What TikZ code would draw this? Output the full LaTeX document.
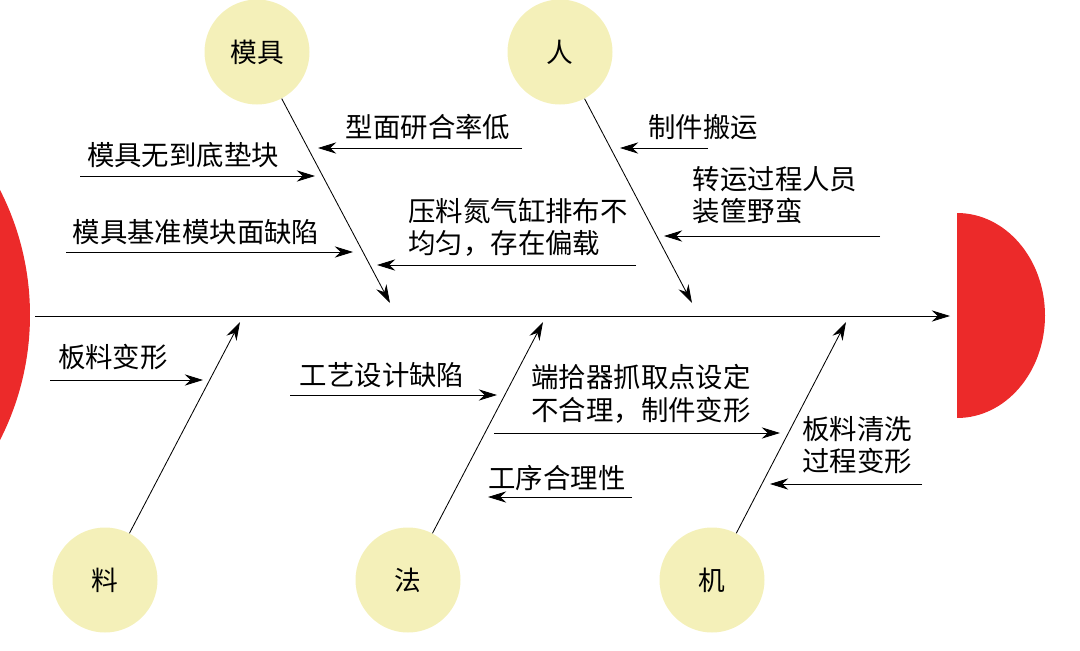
\documentclass[tikz,border=0pt]{standalone}
\usepackage{fontspec}
\setmainfont{Noto Sans CJK SC}
\usetikzlibrary{arrows.meta}
\definecolor{cy}{HTML}{F4F0B9}
\definecolor{rd}{HTML}{EC2A2A}
\begin{document}
\begin{tikzpicture}[x=0.025cm,y=-0.025cm,
 ar/.style={-{Stealth[length=13pt,width=8pt]},line width=0.6pt},
 cat/.style={circle,fill=cy,minimum size=105*0.025cm,font=\fontsize{19pt}{20pt}\selectfont},
 lb/.style={font=\fontsize{19.5pt}{23pt}\selectfont,align=left,inner sep=0pt}]
\useasboundingbox (0,0) rectangle (1080,651);
\begin{scope}
\clip (0,0) rectangle (1080,651);
\fill[rd] (-245,315) circle (275);
\end{scope}
\fill[rd] (957,213) arc[start angle=90,end angle=-90,x radius=88,y radius=-102.5] -- cycle;
\coordinate (s0) at (35,316); \coordinate (s1) at (950,316);
\draw[ar] (s0) -- (s1);
\node[cat] (mj) at (257,52) {模具};
\node[cat] (ren) at (560,52) {人};
\node[cat] (liao) at (105,580) {料};
\node[cat] (fa) at (408,580) {法};
\node[cat] (ji) at (712,580) {机};
\coordinate (e1) at (390,303); \coordinate (e2) at (692,303);
\coordinate (e3) at (240,322); \coordinate (e4) at (543,322); \coordinate (e5) at (846,322);
\draw[ar] (mj) -- (e1);
\draw[ar] (ren) -- (e2);
\draw[ar] (liao) -- (e3);
\draw[ar] (fa) -- (e4);
\draw[ar] (ji) -- (e5);
\coordinate (a1) at (522,148); \coordinate (b1) at (318,148); \draw[ar] (a1) -- (b1);
\node[lb] (t1) at (428,127) {型面研合率低};
\coordinate (a2) at (80,176); \coordinate (b2) at (315,176); \draw[ar] (a2) -- (b2);
\node[lb] (t2) at (183,155) {模具无到底垫块};
\coordinate (a3) at (66,252); \coordinate (b3) at (353,252); \draw[ar] (a3) -- (b3);
\node[lb] (t3) at (196,232) {模具基准模块面缺陷};
\coordinate (a4) at (636,265); \coordinate (b4) at (377,265); \draw[ar] (a4) -- (b4);
\node[lb] (t4) at (518,227) {压料氮气缸排布不\\均匀，存在偏载};
\coordinate (a5) at (708,148); \coordinate (b5) at (620,148); \draw[ar] (a5) -- (b5);
\node[lb] (t5) at (703,127) {制件搬运};
\coordinate (a6) at (880,236); \coordinate (b6) at (664,236); \draw[ar] (a6) -- (b6);
\node[lb] (t6) at (775,195) {转运过程人员\\装筐野蛮};
\coordinate (a7) at (50,380); \coordinate (b7) at (203,380); \draw[ar] (a7) -- (b7);
\node[lb] (t7) at (113,357) {板料变形};
\coordinate (a8) at (290,395); \coordinate (b8) at (497,395); \draw[ar] (a8) -- (b8);
\node[lb] (t8) at (382,375) {工艺设计缺陷};
\coordinate (a9) at (494,433); \coordinate (b9) at (780,433); \draw[ar] (a9) -- (b9);
\node[lb] (t9) at (641,394) {端拾器抓取点设定\\不合理，制件变形};
\coordinate (a10) at (632,497); \coordinate (b10) at (488,497); \draw[ar] (a10) -- (b10);
\node[lb] (t10) at (557,478) {工序合理性};
\coordinate (a11) at (922,484); \coordinate (b11) at (770,484); \draw[ar] (a11) -- (b11);
\node[lb] (t11) at (857,445) {板料清洗\\过程变形};
\end{tikzpicture}
\end{document}
